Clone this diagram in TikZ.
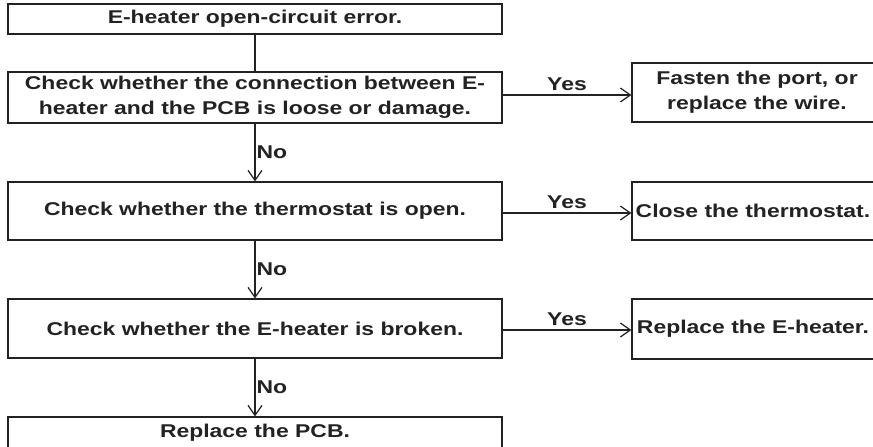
\documentclass[tikz,border=0pt]{standalone}
\usepackage{fontspec}
\setmainfont{Liberation Sans}
\newfontfamily\boxfont[FakeStretch=1.24]{Liberation Sans}
\usetikzlibrary{arrows.meta}
\definecolor{ink}{HTML}{222222}
\begin{document}
\begin{tikzpicture}[x=1pt,y=-1pt,
  box/.style={draw=ink, line width=1.2pt, rectangle, inner sep=0pt, align=center,
    text=ink, font=\boxfont\fontsize{18.5}{25}\selectfont\bfseries},
  lnk/.style={draw=ink, line width=1.2pt},
  arr/.style={lnk, -{Straight Barb[length=10pt,width=14pt,line width=1.2pt]}},
  lab/.style={text=ink, font=\boxfont\fontsize{18.5}{20}\selectfont\bfseries, inner sep=1pt}]
\useasboundingbox (0,0) rectangle (873,447);
\fill[white] (0,0) rectangle (873,447);
\node[box, minimum width=494pt, minimum height=30pt] (b1) at (255,19) {E-heater open-circuit error.};
\node[box, minimum width=494pt, minimum height=51pt] (b2) at (255,97.5) {Check whether the connection between E-\\heater and the PCB is loose or damage.};
\node[box, minimum width=494pt, minimum height=58pt] (b3) at (255,211) {Check whether the thermostat is open.};
\node[box, minimum width=494pt, minimum height=59pt] (b4) at (255,328.5) {Check whether the E-heater is broken.};
\node[box, minimum width=494pt, minimum height=32pt] (b5) at (255,433) {Replace the PCB.};
\node[box, minimum width=250pt, minimum height=59pt] (r1) at (757,92.5) {Fasten the port, or\\replace the wire.};
\node[box, minimum width=250pt, minimum height=58pt] (r2) at (757,211) {\hspace*{-8pt}Close the thermostat.};
\node[box, minimum width=250pt, minimum height=60pt] (r3) at (757,329) {\hspace*{-8pt}Replace the E-heater.};
\draw[lnk] (b1.south) -- (b2.north);
\draw[arr] (b2.south) -- node[lab, right] {No} (b3.north);
\draw[arr] (b3.south) -- node[lab, right] {No} (b4.north);
\draw[arr] (b4.south) -- node[lab, right] {No} (b5.north);
\draw[arr] (b2.east |- 0,95) -- node[lab, above=3pt] {Yes} (r1.west |- 0,95);
\draw[arr] (b3.east |- 0,213) -- node[lab, above=3pt] {Yes} (r2.west |- 0,213);
\draw[arr] (b4.east |- 0,330) -- node[lab, above=3pt] {Yes} (r3.west |- 0,330);
\end{tikzpicture}
\end{document}
